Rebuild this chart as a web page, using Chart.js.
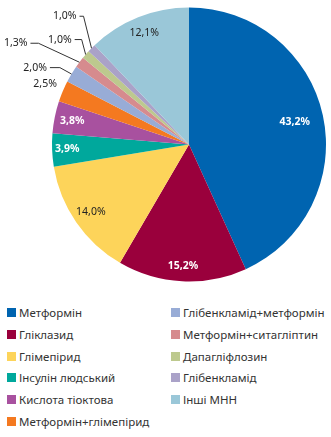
<!DOCTYPE html>
<html>
<head>
<meta charset="utf-8">
<script src="https://cdn.jsdelivr.net/npm/chart.js@4/dist/chart.umd.min.js"></script>
<style>
  body { margin: 0; background: #fff; font-family: "Noto Sans", sans-serif; }
  #wrap { position: relative; width: 331px; height: 437px; }
  #pieBox { position: absolute; left: 0; top: 0; width: 331px; height: 290px; }
  #legend {
    position: absolute; left: 7px; top: 302px;
    display: grid; grid-template-rows: repeat(6, 21.7px);
    grid-auto-flow: column; grid-template-columns: 164px 160px;
    font-size: 11.5px; color: #333;
  }
  .item { display: flex; align-items: center; white-space: nowrap; }
  .box { width: 9px; height: 9px; margin-right: 3px; flex: none; }
</style>
</head>
<body>
<div id="wrap">
  <div id="pieBox"><canvas id="pie"></canvas></div>
  <div id="legend"></div>
</div>
<script>
// Drug share, %
const drugs = [
  "Метформін", "Гліклазид", "Глімепірид", "Інсулін людський",
  "Кислота тіоктова", "Метформін+глімепірид", "Глібенкламід+метформін",
  "Метформін+ситагліптин", "Дапагліфлозин", "Глібенкламід", "Інші МНН"
];
const shares = [43.2, 15.2, 14.0, 3.9, 3.8, 2.5, 2.0, 1.3, 1.0, 1.0, 12.1];
const colors = [
  "#0064b0", "#9a003c", "#fdd45a", "#00a89c", "#a8519f", "#f47920",
  "#98acd6", "#d68b8e", "#bdc98e", "#aaa2c8", "#9ac7d8"
];

// label placement: inside ones by radius factor, small ones with a leader line
const labelRadius = [0.79, 0.89, 0.87, 0.89, 0.87, 1.14, null, null, null, null, 0.88];
const labelWhite = [true, true, false, true, true, false, false, false, false, false, false];
// [elbow dx, elbow dy, horizontal length] relative to slice edge point
const leaders = { 6: [-11.6, -6.4, 10], 7: [-41, -19, 8], 8: [-4, -15, 7], 9: [-8, -32, 4] };

const fmt = v => v.toFixed(1).replace(".", ",") + "%";

const pieLabels = {
  id: "pieLabels",
  afterDatasetsDraw(chart) {
    const ctx = chart.ctx;
    const arcs = chart.getDatasetMeta(0).data;
    ctx.save();
    ctx.textBaseline = "middle";
    arcs.forEach((arc, i) => {
      const p = arc.getProps(["x", "y", "startAngle", "endAngle", "outerRadius"], true);
      const mid = (p.startAngle + p.endAngle) / 2;
      const text = fmt(shares[i]);
      ctx.font = (labelWhite[i] ? "bold " : "") + "10.5px 'Noto Sans', sans-serif";
      ctx.fillStyle = labelWhite[i] ? "#fff" : "#222";
      if (leaders[i]) {
        const [ex, ey, len] = leaders[i];
        const sx = p.x + Math.cos(mid) * p.outerRadius;
        const sy = p.y + Math.sin(mid) * p.outerRadius;
        const bx = sx + ex, by = sy + ey;
        ctx.strokeStyle = "#333";
        ctx.lineWidth = 1;
        ctx.beginPath();
        ctx.moveTo(sx, sy);
        ctx.lineTo(bx, by);
        ctx.lineTo(bx - len, by);
        ctx.stroke();
        ctx.textAlign = "right";
        ctx.fillText(text, bx - len - 3, by);
      } else {
        const r = p.outerRadius * labelRadius[i];
        ctx.textAlign = "center";
        ctx.fillText(text, p.x + Math.cos(mid) * r, p.y + Math.sin(mid) * r);
      }
    });
    ctx.restore();
  }
};

new Chart(document.getElementById("pie"), {
  type: "pie",
  data: {
    labels: drugs,
    datasets: [{ data: shares, backgroundColor: colors, borderWidth: 0 }]
  },
  options: {
    responsive: true,
    maintainAspectRatio: false,
    animation: false,
    layout: { padding: { left: 52, right: 5, top: 7, bottom: 8 } },
    plugins: { legend: { display: false }, tooltip: { enabled: false } }
  },
  plugins: [pieLabels]
});

const legend = document.getElementById("legend");
drugs.forEach((name, i) => {
  const item = document.createElement("div");
  item.className = "item";
  item.innerHTML = '<span class="box" style="background:' + colors[i] + '"></span>' + name;
  legend.appendChild(item);
});
</script>
</body>
</html>
